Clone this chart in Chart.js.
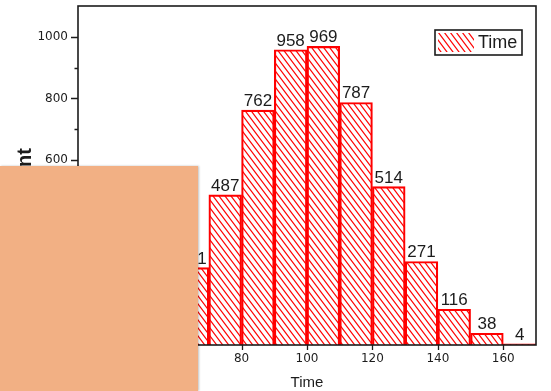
<!DOCTYPE html>
<html>
<head>
<meta charset="utf-8">
<script src="https://cdn.jsdelivr.net/npm/chart.js@4.4.1/dist/chart.umd.min.js"></script>
<style>
  html, body { margin: 0; padding: 0; background: #ffffff; }
  #wrap { position: relative; width: 551px; height: 391px; overflow: hidden; }
  #note {
    position: absolute; left: 0; top: 166px; width: 198px; height: 225px;
    background: #f2b084; box-shadow: 1px 0 2px rgba(0,0,0,0.25);
  }
</style>
</head>
<body>
<div id="wrap">
  <canvas id="c" width="551" height="391"></canvas>
  <div id="note"></div>
</div>
<script>
// Histogram bins (lower edge of each 10-unit bin) and their counts
const binStarts = [60, 70, 80, 90, 100, 110, 120, 130, 140, 150, 160];
const counts    = [251, 487, 762, 958, 969, 787, 514, 271, 116, 38, 4];
const binWidth = 10;
const xTicks = [40, 60, 80, 100, 120, 140, 160];
const yMajorTicks = [0, 200, 400, 600, 800, 1000];
const yMinorTicks = [100, 300, 500, 700, 900];
const seriesName = 'Time';
const xTitle = 'Time';
const yTitle = 'Count';

const RED = '#ff0000';
const INK = '#1c1c1c';

// Diagonal "\\\" hatch used for the bars and the legend swatch
function makeHatch(lineWidth) {
  const w = 6, h = 8;
  const t = document.createElement('canvas');
  t.width = w; t.height = h;
  const g = t.getContext('2d');
  g.strokeStyle = RED;
  g.lineWidth = lineWidth;
  for (let k = -1; k <= 1; k++) {
    g.beginPath();
    g.moveTo(k * w - w / 4, -h / 4);
    g.lineTo(k * w + w + w / 4, h + h / 4);
    g.stroke();
  }
  return document.getElementById('c').getContext('2d').createPattern(t, 'repeat');
}
const hatch = makeHatch(1.15);

const points = binStarts.map((s, i) => ({ x: s + binWidth / 2, y: counts[i] }));

const decorations = {
  id: 'decorations',
  afterDatasetsDraw(chart) {
    const ctx = chart.ctx;
    const a = chart.chartArea;
    const xs = chart.scales.x, ys = chart.scales.y;
    ctx.save();

    // frame
    ctx.strokeStyle = INK;
    ctx.lineWidth = 1.6;
    ctx.strokeRect(a.left, a.top, a.right - a.left, a.bottom - a.top);

    // y ticks (major long, minor short, pointing out)
    ctx.lineWidth = 1.3;
    ctx.beginPath();
    yMajorTicks.forEach(v => {
      const y = Math.round(ys.getPixelForValue(v)) + 0.5;
      ctx.moveTo(a.left - 7, y); ctx.lineTo(a.left, y);
    });
    yMinorTicks.forEach(v => {
      const y = Math.round(ys.getPixelForValue(v)) + 0.5;
      ctx.moveTo(a.left - 3.5, y); ctx.lineTo(a.left, y);
    });
    // x ticks
    xTicks.forEach(v => {
      const x = Math.round(xs.getPixelForValue(v)) + 0.5;
      ctx.moveTo(x, a.bottom); ctx.lineTo(x, a.bottom + 5);
    });
    ctx.stroke();

    // value labels above bars
    ctx.fillStyle = INK;
    ctx.font = '17px "Liberation Sans", Arial, sans-serif';
    ctx.textAlign = 'center';
    ctx.textBaseline = 'alphabetic';
    chart.getDatasetMeta(0).data.forEach((bar, i) => {
      ctx.fillText(String(counts[i]), bar.x, bar.y - 4);
    });

    // legend box
    const lx = 435, ly = 30, lw = 87, lh = 25;
    ctx.fillStyle = '#ffffff';
    ctx.fillRect(lx, ly, lw, lh);
    ctx.fillStyle = hatch;
    ctx.fillRect(lx + 3, ly + 3, 36, 19);
    ctx.strokeStyle = INK;
    ctx.lineWidth = 1.6;
    ctx.strokeRect(lx, ly, lw, lh);
    ctx.fillStyle = INK;
    ctx.font = '18px "Liberation Sans", Arial, sans-serif';
    ctx.textAlign = 'left';
    ctx.textBaseline = 'middle';
    ctx.fillText(seriesName, lx + 43, ly + lh / 2 + 1);

    // axis titles
    ctx.font = '15px "Liberation Sans", Arial, sans-serif';
    ctx.textAlign = 'center';
    ctx.textBaseline = 'middle';
    ctx.fillText(xTitle, (a.left + a.right) / 2, 383);

    ctx.save();
    ctx.translate(25, 177);
    ctx.rotate(-Math.PI / 2);
    ctx.font = 'bold 20px "Liberation Sans", Arial, sans-serif';
    ctx.fillText(yTitle, 0, 0);
    ctx.restore();

    ctx.restore();
  }
};

new Chart(document.getElementById('c'), {
  type: 'bar',
  data: {
    datasets: [{
      label: seriesName,
      data: points,
      backgroundColor: hatch,
      borderColor: RED,
      borderWidth: 1.5,
      borderSkipped: 'bottom',
      barPercentage: 1,
      categoryPercentage: 1
    }]
  },
  options: {
    responsive: false,
    devicePixelRatio: 1,
    animation: false,
    layout: { padding: { top: 6, right: 15, left: 0, bottom: 0 } },
    plugins: { legend: { display: false }, tooltip: { enabled: false } },
    scales: {
      x: {
        type: 'linear',
        offset: false,
        min: 30, max: 170,
        grid: { display: false, drawTicks: false },
        border: { display: false },
        afterBuildTicks: s => { s.ticks = xTicks.map(v => ({ value: v })); },
        afterFit: s => { s.height = 46; s.paddingLeft = 0; s.paddingRight = 0; },
        ticks: {
          padding: 7,
          color: INK,
          maxRotation: 0,
          autoSkip: false,
          callback: v => String(v),
          font: { family: '"DejaVu Sans", sans-serif', size: 12 }
        }
      },
      y: {
        min: 0, max: 1100,
        grid: { display: false, drawTicks: false },
        border: { display: false },
        afterBuildTicks: s => { s.ticks = yMajorTicks.map(v => ({ value: v })); },
        afterFit: s => { s.width = 78; s.paddingTop = 0; s.paddingBottom = 0; },
        ticks: {
          padding: 10,
          color: INK,
          autoSkip: false,
          callback: v => String(v),
          font: { family: '"DejaVu Sans", sans-serif', size: 12 }
        }
      }
    }
  },
  plugins: [decorations]
});
</script>
</body>
</html>
